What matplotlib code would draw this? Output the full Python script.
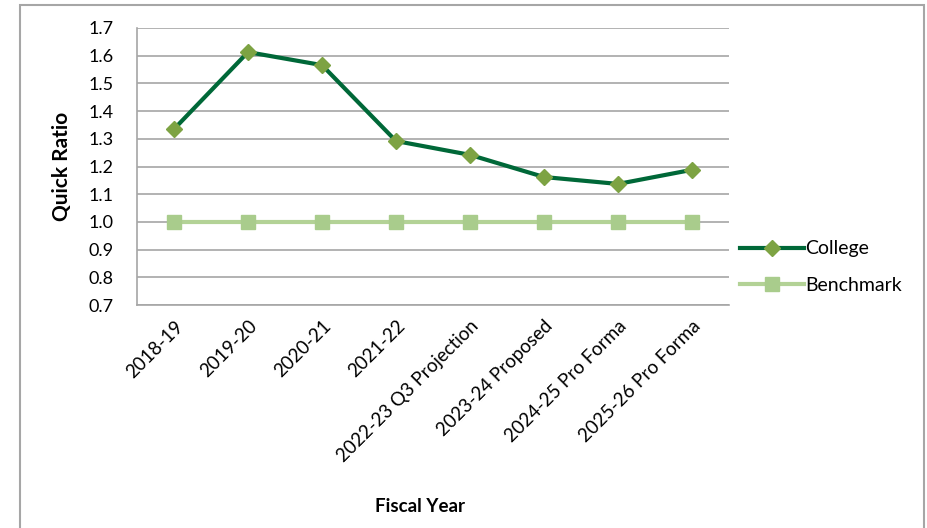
import matplotlib
matplotlib.use('Agg')
import matplotlib.pyplot as plt
from matplotlib.patches import Rectangle

plt.rcParams['font.family'] = ['Lato', 'DejaVu Sans']

# data
years = ['2018-19', '2019-20', '2020-21', '2021-22', '2022-23 Q3 Projection',
         '2023-24 Proposed', '2024-25 Pro Forma', '2025-26 Pro Forma']
college = [1.335, 1.613, 1.566, 1.292, 1.242, 1.162, 1.137, 1.188]
benchmark = [1.0, 1.0, 1.0, 1.0, 1.0, 1.0, 1.0, 1.0]
yticks = [0.7, 0.8, 0.9, 1.0, 1.1, 1.2, 1.3, 1.4, 1.5, 1.6, 1.7]

fig = plt.figure(figsize=(9.27, 5.28), dpi=100)

# outer chart frame
fig.patches.append(Rectangle((20/927, -0.01), (924-20)/927, 1.01 - 5/528,
                             transform=fig.transFigure, fill=False,
                             edgecolor='#a6a6a6', linewidth=1.5))

ax = fig.add_axes([137/927, 1-305/528, (729-137)/927, (305-28)/528])

x = list(range(len(years)))
ax.plot(x, college, color='#006838', linewidth=3, marker='D', markersize=8,
        markerfacecolor='#7da343', markeredgecolor='#7da343', label='College', zorder=3)
ax.plot(x, benchmark, color='#b3d296', linewidth=3, marker='s', markersize=10,
        markerfacecolor='#a9cc8c', markeredgecolor='#a9cc8c', label='Benchmark', zorder=2)

ax.set_xlim(-0.5, len(years)-0.5)
ax.set_ylim(0.7, 1.7)
ax.set_yticks(yticks)
ax.set_yticklabels(['%.1f' % v for v in yticks], fontsize=13)
ax.grid(axis='y', color='#a6a6a6', linewidth=1.2)
ax.set_axisbelow(True)
for s in ['top', 'right']:
    ax.spines[s].set_visible(False)
for s in ['left', 'bottom']:
    ax.spines[s].set_color('#a6a6a6')
    ax.spines[s].set_linewidth(1.2)
ax.tick_params(axis='y', length=0, pad=17)
ax.tick_params(axis='x', length=0, pad=9)

ax.set_xticks(x)
ax.set_xticklabels(years, rotation=45, ha='right', rotation_mode='anchor', fontsize=13.5)

ax.set_ylabel('Quick Ratio', fontsize=15, fontweight='bold', labelpad=12)
fig.text(420/927, 1-506/528, 'Fiscal Year', fontsize=13.5, fontweight='bold',
         ha='center', va='center')

ax.legend(loc='center left', bbox_to_anchor=(1.019, 0.137), frameon=False,
          fontsize=14, handlelength=3.3, handletextpad=0.05, labelspacing=1.0,
          borderaxespad=0, borderpad=0)

fig.savefig('out.png', dpi=100)
